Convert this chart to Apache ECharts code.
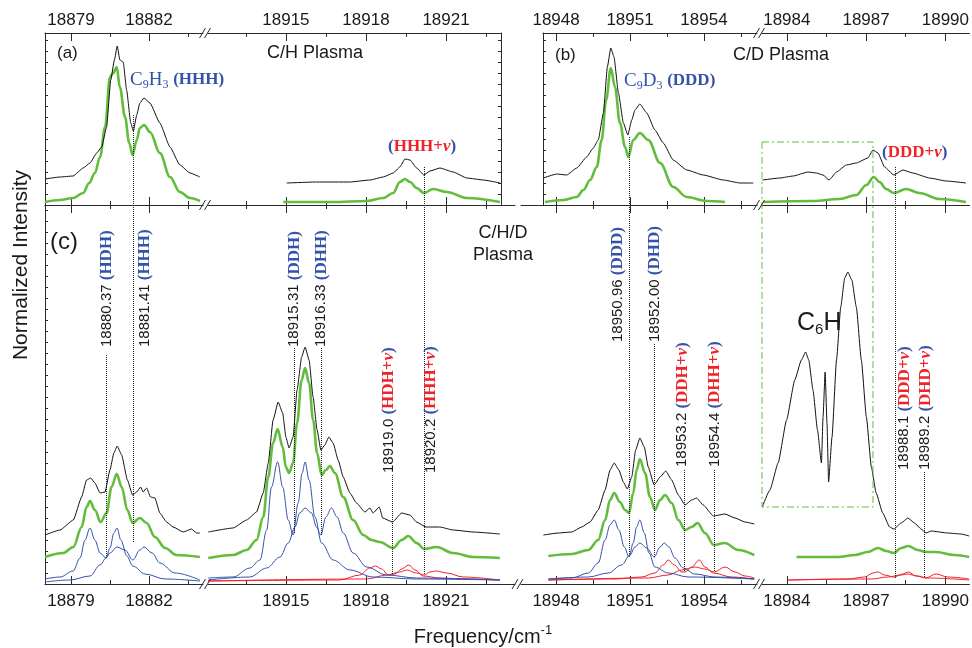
<!DOCTYPE html>
<html>
<head>
<meta charset="utf-8">
<title>C9H3 isotopologues - broken axis spectra</title>
<script src="https://cdn.jsdelivr.net/npm/echarts@6/dist/echarts.min.js"></script>
<style>
  html, body { margin: 0; padding: 0; background: #fff; }
  #main { width: 972px; height: 648px; }
</style>
</head>
<body>
<div id="main"></div>
<script>
// ---- data: [frequency / cm-1, normalized intensity (arb. units)] ----
// (a) C/H plasma
const topS1Black = [[18878.00,26],[18878.58,28],[18879.08,29],[18879.47,37],[18879.73,42],[18879.99,52],[18880.18,58],[18880.37,78],[18880.53,125],[18880.67,145],[18880.78,159],[18880.88,145],[18881.01,143],[18881.14,115],[18881.30,82],[18881.40,74],[18881.53,90],[18881.65,102],[18881.81,107],[18882.04,102],[18882.42,82],[18882.81,58],[18883.19,40],[18883.58,32],[18883.96,28]];
const topS1Green = [[18878.00,3],[18878.58,5],[18879.08,7],[18879.47,12],[18879.70,22],[18879.92,32],[18880.12,48],[18880.31,78],[18880.50,128],[18880.63,132],[18880.76,138],[18880.88,118],[18881.08,88],[18881.24,62],[18881.37,50],[18881.53,65],[18881.65,77],[18881.81,80],[18882.04,73],[18882.42,52],[18882.81,28],[18883.19,13],[18883.58,7],[18883.96,4]];
const topS2Black = [[18915.03,22],[18916.15,23],[18917.40,23],[18918.15,25],[18918.65,28],[18919.02,32],[18919.27,38],[18919.46,46],[18919.65,45],[18919.90,37],[18920.17,30],[18920.40,34],[18920.77,37],[18921.27,33],[18921.78,27],[18922.40,25],[18923.02,22]];
const topS2Green = [[18914.90,3],[18916.76,3],[18918.03,4],[18918.65,7],[18919.02,12],[18919.27,23],[18919.46,26],[18919.65,23],[18919.90,17],[18920.17,12],[18920.52,16],[18921.03,13],[18921.78,7],[18923.02,3]];
// (b) C/D plasma
const topS3Black = [[18947.49,27],[18948.03,31],[18948.43,30],[18948.84,37],[18949.24,48],[18949.51,57],[18949.71,65],[18949.92,92],[18950.08,138],[18950.22,157],[18950.35,148],[18950.53,112],[18950.73,82],[18950.91,70],[18951.07,85],[18951.20,95],[18951.40,101],[18951.68,92],[18952.01,75],[18952.35,62],[18952.75,45],[18953.30,35],[18953.97,30],[18954.78,25],[18955.46,22],[18956.00,22]];
const topS3Green = [[18947.55,3],[18948.30,5],[18948.84,8],[18949.11,15],[18949.38,25],[18949.65,38],[18949.85,65],[18950.03,105],[18950.22,137],[18950.39,118],[18950.59,82],[18950.80,58],[18950.93,48],[18951.13,65],[18951.40,72],[18951.74,65],[18952.22,42],[18952.75,18],[18953.30,8],[18954.11,4],[18954.85,3]];
const topS4Black = [[18983.08,25],[18983.74,27],[18984.24,29],[18984.80,33],[18985.12,32],[18985.37,30],[18985.60,25],[18985.88,33],[18986.25,40],[18986.63,42],[18987.07,47],[18987.26,55],[18987.45,52],[18987.70,38],[18988.05,30],[18988.39,35],[18988.77,32],[18989.40,27],[18990.03,24],[18990.78,22]];
const topS4Green = [[18983.11,3],[18984.99,4],[18986.00,6],[18986.63,10],[18987.01,20],[18987.29,28],[18987.51,23],[18987.76,16],[18988.05,12],[18988.52,16],[18989.02,12],[18989.77,6],[18990.78,3]];
// (c) C/H/D plasma
const botS1Black = [[18878.00,49],[18878.58,54],[18879.09,64],[18879.41,87],[18879.60,104],[18879.76,106],[18879.92,101],[18880.12,91],[18880.31,92],[18880.50,114],[18880.65,131],[18880.78,138],[18880.95,129],[18881.17,104],[18881.37,89],[18881.53,92],[18881.68,97],[18881.78,92],[18881.91,96],[18882.06,87],[18882.23,86],[18882.42,71],[18882.68,62],[18882.93,57],[18883.32,52],[18883.64,55],[18883.83,51],[18883.96,51]];
const botS1Green = [[18878.00,27],[18878.70,31],[18879.09,37],[18879.41,57],[18879.60,77],[18879.73,83],[18879.92,74],[18880.14,62],[18880.37,71],[18880.56,97],[18880.76,110],[18880.95,97],[18881.17,74],[18881.37,61],[18881.65,66],[18881.91,61],[18882.23,47],[18882.62,36],[18883.06,29],[18883.96,27]];
const botS1BlueHDH = [[18878.00,5],[18878.58,7],[18879.08,13],[18879.35,26],[18879.54,44],[18879.73,56],[18879.92,44],[18880.12,31],[18880.35,26],[18880.50,36],[18880.65,51],[18880.77,56],[18880.92,44],[18881.15,28],[18881.38,18],[18881.85,10],[18882.62,5],[18883.96,3]];
const botS1BlueHHH = [[18878.00,2],[18878.96,4],[18879.73,8],[18880.12,19],[18880.35,26],[18880.50,31],[18880.77,37],[18881.08,34],[18881.38,24],[18881.65,34],[18881.81,37],[18882.12,31],[18882.42,21],[18883.00,11],[18883.96,4]];
const botS2Black = [[18912.09,52],[18913.02,56],[18913.53,64],[18913.90,72],[18914.15,91],[18914.34,121],[18914.52,164],[18914.71,182],[18914.88,171],[18915.00,147],[18915.12,136],[18915.27,147],[18915.42,194],[18915.59,227],[18915.72,237],[18915.87,224],[18916.02,187],[18916.17,154],[18916.31,134],[18916.46,139],[18916.61,147],[18916.77,141],[18916.96,124],[18917.15,107],[18917.40,91],[18917.65,81],[18917.96,72],[18918.15,76],[18918.27,71],[18918.50,77],[18918.63,66],[18919.00,62],[18919.34,71],[18919.65,69],[18919.90,62],[18920.25,57],[18920.77,57],[18921.27,54],[18922.02,52],[18923.02,50]];
const botS2Green = [[18912.09,26],[18913.02,29],[18913.53,34],[18913.90,44],[18914.15,67],[18914.34,107],[18914.52,141],[18914.69,155],[18914.88,137],[18915.00,117],[18915.12,111],[18915.27,121],[18915.42,161],[18915.59,204],[18915.72,216],[18915.87,201],[18916.02,164],[18916.17,131],[18916.34,109],[18916.50,114],[18916.65,118],[18916.84,111],[18917.15,87],[18917.52,64],[18917.90,49],[18918.21,44],[18918.52,42],[18919.02,36],[18919.34,44],[18919.59,48],[18919.90,41],[18920.19,35],[18920.65,37],[18921.27,31],[18922.02,27],[18923.02,26]];
const botS2BlueDDH = [[18912.09,6],[18913.02,7],[18913.65,16],[18914.03,24],[18914.28,54],[18914.46,97],[18914.69,122],[18914.88,97],[18915.09,64],[18915.27,49],[18915.46,81],[18915.61,111],[18915.72,122],[18915.87,104],[18916.09,67],[18916.34,41],[18916.77,24],[18917.40,14],[18918.27,7],[18919.90,5],[18923.02,4]];
const botS2BlueDHH = [[18912.09,4],[18913.65,7],[18914.28,16],[18914.78,27],[18915.09,41],[18915.34,57],[18915.52,71],[18915.72,76],[18915.96,71],[18916.15,57],[18916.31,49],[18916.50,67],[18916.71,76],[18916.92,67],[18917.15,51],[18917.52,31],[18918.03,17],[18918.78,9],[18919.90,6],[18923.02,4]];
const botS2RedHDH = [[18912.09,3],[18917.02,4],[18917.77,9],[18918.15,16],[18918.36,18],[18918.59,15],[18918.84,9],[18919.09,10],[18919.34,15],[18919.61,19],[18919.84,14],[18920.15,8],[18920.77,6],[18921.78,5],[18923.02,4]];
const botS2RedHHH = [[18912.09,3],[18918.03,5],[18918.78,9],[18919.27,12],[18919.53,14],[18919.90,11],[18920.19,9],[18920.40,12],[18920.65,13],[18921.03,11],[18921.65,7],[18923.02,4]];
const botS3Black = [[18947.49,49],[18948.09,51],[18948.64,52],[18949.04,57],[18949.38,62],[18949.71,74],[18949.99,94],[18950.19,114],[18950.36,121],[18950.55,114],[18950.73,102],[18950.89,95],[18951.07,107],[18951.23,134],[18951.40,146],[18951.58,137],[18951.74,117],[18951.98,99],[18952.22,107],[18952.45,113],[18952.69,104],[18952.96,89],[18953.23,79],[18953.50,84],[18953.70,86],[18953.97,79],[18954.38,68],[18954.85,70],[18955.26,66],[18955.66,62],[18956.04,60]];
const botS3Green = [[18947.69,28],[18948.64,30],[18949.31,34],[18949.71,44],[18949.99,64],[18950.19,84],[18950.36,91],[18950.59,82],[18950.80,74],[18950.96,71],[18951.13,91],[18951.27,114],[18951.40,125],[18951.61,111],[18951.81,87],[18952.01,74],[18952.22,84],[18952.42,89],[18952.69,81],[18952.96,64],[18953.23,54],[18953.50,57],[18953.74,61],[18954.04,51],[18954.40,39],[18954.85,41],[18955.39,34],[18956.04,29]];
const botS3BlueDDD = [[18947.69,5],[18948.64,6],[18949.31,11],[18949.71,21],[18949.99,44],[18950.19,59],[18950.36,64],[18950.55,54],[18950.77,37],[18950.96,27],[18951.13,41],[18951.27,57],[18951.40,64],[18951.58,51],[18951.77,31],[18952.01,17],[18952.55,11],[18953.36,7],[18956.04,5]];
const botS3BlueDHD = [[18947.69,5],[18949.31,7],[18950.12,11],[18950.66,19],[18951.00,29],[18951.20,37],[18951.40,41],[18951.68,36],[18951.98,27],[18952.22,37],[18952.39,41],[18952.58,37],[18952.82,26],[18953.16,16],[18953.63,10],[18954.45,7],[18956.04,5]];
const botS3RedDDH = [[18947.69,4],[18950.39,5],[18951.47,7],[18952.01,11],[18952.35,19],[18952.55,24],[18952.80,19],[18953.10,12],[18953.23,12],[18953.50,17],[18953.81,24],[18954.04,17],[18954.38,11],[18955.12,7],[18956.04,5]];
const botS3RedDHH = [[18947.69,4],[18951.74,6],[18952.55,9],[18953.10,14],[18953.63,17],[18954.04,15],[18954.42,12],[18954.85,17],[18955.26,12],[18955.66,8],[18956.04,6]];
const botS4Black = [[18983.07,77],[18983.36,94],[18983.67,121],[18983.99,164],[18984.30,204],[18984.55,224],[18984.71,232],[18984.83,224],[18984.99,194],[18985.16,154],[18985.31,121],[18985.37,167],[18985.45,212],[18985.52,161],[18985.58,102],[18985.71,147],[18985.88,224],[18986.04,277],[18986.19,306],[18986.31,312],[18986.46,304],[18986.63,277],[18986.82,224],[18987.01,167],[18987.20,117],[18987.38,91],[18987.63,71],[18987.89,57],[18988.05,55],[18988.33,61],[18988.58,66],[18988.83,61],[18989.08,55],[18989.27,51],[18989.46,53],[18990.09,51],[18990.59,50],[18990.90,48]];
const botS4Green = [[18984.37,27],[18985.94,27],[18986.57,29],[18987.07,32],[18987.45,36],[18987.76,33],[18988.05,31],[18988.33,36],[18988.60,38],[18988.95,34],[18989.27,32],[18989.65,32],[18990.34,29],[18990.90,27]];
const botS4RedDDD = [[18984.05,4],[18986.31,5],[18986.94,7],[18987.26,11],[18987.45,12],[18987.70,9],[18988.05,7],[18988.39,10],[18988.60,12],[18988.89,8],[18989.33,6],[18990.90,4]];
const botS4RedDHD = [[18984.05,4],[18987.20,5],[18987.82,7],[18988.33,9],[18988.55,10],[18988.95,8],[18989.25,6],[18989.65,10],[18990.09,7],[18990.90,5]];

// tick labels (major) and minor tick positions for each axis segment
const ticksS1 = [18879, 18882];
const minorS1 = [18880.5, 18883.5];
const ticksS2 = [18915, 18918, 18921];
const minorS2 = [18913.5, 18916.5, 18919.5, 18922.5];
const ticksS3 = [18948, 18951, 18954];
const minorS3 = [18949.5, 18952.5, 18955.5];
const ticksS4 = [18984, 18987, 18990];
const minorS4 = [18985.5, 18988.5];

// band origins: [panel, frequency, label, isotopologue, hot band (+v)]
const bandOrigins = [
  ['c1', 18880.37, '18880.37', 'HDH', false],
  ['c1', 18881.41, '18881.41', 'HHH', false],
  ['c2', 18915.31, '18915.31', 'DDH', false],
  ['c2', 18916.33, '18916.33', 'DHH', false],
  ['c2', 18919.0, '18919.0', 'HDH', true],
  ['c2', 18920.2, '18920.2', 'HHH', true],
  ['c3', 18950.96, '18950.96', 'DDD', false],
  ['c3', 18952.00, '18952.00', 'DHD', false],
  ['c3', 18953.2, '18953.2', 'DDH', true],
  ['c3', 18954.4, '18954.4', 'DHH', true],
  ['c4', 18988.1, '18988.1', 'DDD', true],
  ['c4', 18989.2, '18989.2', 'DHD', true]
];

// ---- styling / layout ----
const SANS = 'Liberation Sans, Arial, sans-serif';
const SERIF = 'Liberation Serif, Times New Roman, serif';
const INK = '#1a1a1a';
const BLACK = '#111111', GREEN = '#63bd3d', BLUE = '#3452ab', RED = '#f0222a';
const TOPMAX = 172, BOTMAX = 379;

const panels = [
  {key: 'a1', left: 45,  top: 33,  width: 158, height: 172, min: 18878.00, max: 18884.08, ticks: ticksS1, minor: minorS1, upper: true,  yPos: 'left'},
  {key: 'a2', left: 208, top: 33,  width: 293, height: 172, min: 18912.08, max: 18923.06, ticks: ticksS2, minor: minorS2, upper: true,  yPos: 'right'},
  {key: 'b3', left: 543, top: 33,  width: 214, height: 172, min: 18947.47, max: 18956.15, ticks: ticksS3, minor: minorS3, upper: true,  yPos: 'left'},
  {key: 'b4', left: 762, top: 33,  width: 208, height: 172, min: 18983.06, max: 18990.91, ticks: ticksS4, minor: minorS4, upper: true,  yPos: null},
  {key: 'c1', left: 45,  top: 205, width: 158, height: 379, min: 18878.00, max: 18884.08, ticks: ticksS1, minor: minorS1, upper: false, yPos: 'left'},
  {key: 'c2', left: 208, top: 205, width: 307, height: 379, min: 18912.08, max: 18923.59, ticks: ticksS2, minor: minorS2, upper: false, yPos: null},
  {key: 'c3', left: 521, top: 205, width: 236, height: 379, min: 18946.58, max: 18956.15, ticks: ticksS3, minor: minorS3, upper: false, yPos: null},
  {key: 'c4', left: 762, top: 205, width: 208, height: 379, min: 18983.06, max: 18990.91, ticks: ticksS4, minor: minorS4, upper: false, yPos: null}
];
const panelIdx = {};
panels.forEach((p, i) => { panelIdx[p.key] = i; });

// dotted guide lines: [frequency, y from, y to] in each panel's data units
const guides = {
  a1: [[18881.41, 90, 0]],
  a2: [[18920.2, 38, 0]],
  b3: [[18950.96, 68, 0]],
  b4: [[18988.1, 38, 0]],
  c1: [[18880.37, 229, 26], [18881.41, BOTMAX, 41]],
  c2: [[18915.31, 236, 51], [18916.33, 236, 49], [18919.0, 109, 9], [18920.2, BOTMAX, 9]],
  c3: [[18950.96, BOTMAX, 27], [18952.00, 240, 27], [18953.2, 114, 12], [18954.4, 114, 12]],
  c4: [[18988.1, BOTMAX, 6], [18989.2, 112, 6]]
};
// where the rotated labels sit: [y of text start, x shift px]
const labelPlace = {
  18880.37: [237, 0], 18881.41: [237, 11], 18915.31: [237, 0], 18916.33: [237, 0],
  18919.0: [111, -4], 18920.2: [111, 6], 18950.96: [242, -11], 18952.00: [242, 0],
  18953.2: [117, -2], 18954.4: [117, 1], 18988.1: [114, 9], 18989.2: [114, 1]
};

const axisLine = {color: '#2a2a2a', width: 1};
const grid = [], xAxis = [], yAxis = [];
panels.forEach((p, i) => {
  grid.push({left: p.left, top: p.top, width: p.width, height: p.height});
  p.xIndex = xAxis.length;
  ['bottom', 'top'].forEach(pos => {
    const labelled = (pos === 'top') === p.upper;
    xAxis.push({
      type: 'value', gridIndex: i, position: pos, min: p.min, max: p.max,
      splitLine: {show: false},
      axisLine: {show: true, onZero: false, lineStyle: axisLine},
      axisTick: {show: true, inside: true, length: 8, customValues: p.ticks, lineStyle: axisLine},
      axisLabel: {show: labelled, customValues: p.ticks, margin: pos === 'top' ? 4 : 9,
        formatter: v => String(Math.round(v)),
        fontSize: 17, fontFamily: SANS, color: INK}
    });
    xAxis.push({
      type: 'value', gridIndex: i, position: pos, min: p.min, max: p.max,
      splitLine: {show: false},
      axisLine: {show: false, onZero: false},
      axisTick: {show: true, inside: true, length: 4, customValues: p.minor, lineStyle: axisLine},
      axisLabel: {show: false}
    });
  });
  yAxis.push({
    type: 'value', gridIndex: i, min: 0, max: p.upper ? TOPMAX : BOTMAX, interval: 11,
    position: p.yPos || 'left', show: !!p.yPos,
    axisLine: {show: true, onZero: false, lineStyle: axisLine},
    axisTick: {show: true, inside: true, length: 3, lineStyle: axisLine},
    axisLabel: {show: false}, splitLine: {show: false}
  });
});

const series = [];
const blackSeries = {};
function addLine(key, data, kind) {
  const i = panelIdx[key];
  const st = {
    black: {color: BLACK, width: 1, smooth: 0.15, z: 5},
    green: {color: GREEN, width: 2.6, smooth: 0.35, z: 4},
    blue: {color: BLUE, width: 1, smooth: 0.35, z: 3},
    red: {color: RED, width: 1, smooth: 0.35, z: 2}
  }[kind];
  const s = {
    type: 'line', xAxisIndex: panels[i].xIndex, yAxisIndex: i, data: data,
    symbol: 'none', smooth: st.smooth, smoothMonotone: 'x', z: st.z, silent: true,
    lineStyle: {color: st.color, width: st.width}, itemStyle: {color: st.color},
    emphasis: {disabled: true}
  };
  if (kind === 'black') {
    s.markLine = {
      silent: true, symbol: ['none', 'none'], label: {show: false},
      lineStyle: {type: 'dotted', color: '#222', width: 1},
      emphasis: {disabled: true},
      data: guides[key].map(g => [{coord: [g[0], g[1]]}, {coord: [g[0], g[2]]}])
    };
    blackSeries[key] = series.length;
  }
  series.push(s);
}

addLine('a1', topS1Green, 'green'); addLine('a1', topS1Black, 'black');
addLine('a2', topS2Green, 'green'); addLine('a2', topS2Black, 'black');
addLine('b3', topS3Green, 'green'); addLine('b3', topS3Black, 'black');
addLine('b4', topS4Green, 'green'); addLine('b4', topS4Black, 'black');
addLine('c1', botS1BlueHDH, 'blue'); addLine('c1', botS1BlueHHH, 'blue');
addLine('c1', botS1Green, 'green'); addLine('c1', botS1Black, 'black');
addLine('c2', botS2RedHDH, 'red'); addLine('c2', botS2RedHHH, 'red');
addLine('c2', botS2BlueDDH, 'blue'); addLine('c2', botS2BlueDHH, 'blue');
addLine('c2', botS2Green, 'green'); addLine('c2', botS2Black, 'black');
addLine('c3', botS3RedDDH, 'red'); addLine('c3', botS3RedDHH, 'red');
addLine('c3', botS3BlueDDD, 'blue'); addLine('c3', botS3BlueDHD, 'blue');
addLine('c3', botS3Green, 'green'); addLine('c3', botS3Black, 'black');
addLine('c4', botS4RedDDD, 'red'); addLine('c4', botS4RedDHD, 'red');
addLine('c4', botS4Green, 'green'); addLine('c4', botS4Black, 'black');

const chart = echarts.init(document.getElementById('main'));
chart.setOption({animation: false, backgroundColor: '#fff', grid, xAxis, yAxis, series});

// ---- annotations ----
const toPx = (key, x, y) => chart.convertToPixel({seriesIndex: blackSeries[key]}, [x, y]);
function tok(family, size, fill, extra) {
  return Object.assign({fontFamily: family, fontSize: size, fill: fill, color: fill}, extra || {});
}
const richBand = {
  n: tok(SANS, 15, INK),
  p: tok(SERIF, 17, BLUE, {fontWeight: 'bold'}),
  bb: tok(SERIF, 17, BLUE, {fontWeight: 'bold'}),
  rb: tok(SERIF, 17, RED, {fontWeight: 'bold'}),
  rv: tok(SERIF, 17, RED, {fontWeight: 'bold', fontStyle: 'italic'})
};
const formula = {
  c: tok(SERIF, 19, BLUE, {lineHeight: 22}),
  s: tok(SERIF, 12, BLUE, {verticalAlign: 'bottom', lineHeight: 12}),
  p: richBand.p, bb: richBand.bb, rb: richBand.rb, rv: richBand.rv
};
function text(x, y, str, opt) {
  opt = opt || {};
  return {
    type: 'text', x: x, y: y, rotation: opt.rotation || 0, silent: true, z: 100,
    style: {
      text: str, fill: opt.color || INK,
      font: (opt.size || 17) + 'px ' + (opt.family || SANS),
      align: opt.align || 'left', textAlign: opt.align || 'left',
      verticalAlign: 'middle', textVerticalAlign: 'middle',
      lineHeight: opt.lineHeight, rich: opt.rich
    }
  };
}

const graphic = [];
bandOrigins.forEach(b => {
  const place = labelPlace[b[1]];
  const pt = toPx(b[0], b[1], place[0]);
  const inner = b[4] ? '{rb|' + b[3] + '+}{rv|ν}' : '{bb|' + b[3] + '}';
  graphic.push(text(pt[0] + place[1], pt[1], '{n|' + b[2] + ' }{p|(}' + inner + '{p|)}',
    {rotation: Math.PI / 2, rich: richBand}));
});

graphic.push(text(57, 53, '(a)'));
graphic.push(text(267, 53, 'C/H Plasma', {size: 18}));
graphic.push(text(555, 55, '(b)'));
graphic.push(text(733, 55, 'C/D Plasma', {size: 18}));
graphic.push(text(50, 242, '(c)', {size: 24}));
graphic.push(text(503, 244, 'C/H/D\nPlasma', {size: 18, align: 'center', lineHeight: 22}));
graphic.push(text(130, 80, '{c|C}{s|9}{c|H}{s|3}{c| }{bb|(HHH)}', {rich: formula}));
graphic.push(text(388, 147, '{p|(}{rb|HHH+}{rv|ν}{p|)}', {rich: formula}));
graphic.push(text(624, 81, '{c|C}{s|9}{c|D}{s|3}{c| }{bb|(DDD)}', {rich: formula}));
graphic.push(text(882, 153, '{p|(}{rb|DDD+}{rv|ν}{p|)}', {rich: formula}));
graphic.push(text(797, 323, '{l|C}{s|6}{l|H}', {rich: {
  l: tok(SANS, 25, INK, {lineHeight: 28}),
  s: tok(SANS, 15, INK, {verticalAlign: 'bottom', lineHeight: 15})
}}));
graphic.push(text(21, 265, 'Normalized Intensity', {size: 21, align: 'center', rotation: Math.PI / 2}));
graphic.push(text(483, 637, '{t|Frequency/cm}{u|-1}', {align: 'center', rich: {
  t: tok(SANS, 20, INK, {lineHeight: 26}),
  u: tok(SANS, 13, INK, {verticalAlign: 'top', lineHeight: 13})
}}));

// green dash-dot box around the C6H band
const boxA = toPx('b4', 18983.06, 63);
const boxB = toPx('c4', 18987.26, 77);
graphic.push({
  type: 'rect', silent: true, z: 50,
  shape: {x: boxA[0], y: boxA[1], width: boxB[0] - boxA[0], height: boxB[1] - boxA[1]},
  style: {fill: 'none', stroke: GREEN, lineWidth: 1, lineDash: [7, 3, 2, 3]}
});

// "//" break marks between axis segments
const breaks = [];
[[0, 1], [4, 5], [5, 6], [2, 3], [6, 7]].forEach(pair => {
  const a = panels[pair[0]], b = panels[pair[1]];
  const cx = (a.left + a.width + b.left) / 2;
  breaks.push([cx, a.top + a.height]);
  if (a.upper) breaks.push([cx, a.top]);
});
breaks.forEach(bk => {
  [-6, -1].forEach(off => {
    graphic.push({
      type: 'line', silent: true, z: 60,
      shape: {x1: bk[0] + off, y1: bk[1] + 5, x2: bk[0] + off + 6, y2: bk[1] - 5},
      style: {stroke: '#2a2a2a', lineWidth: 1}
    });
  });
});

chart.setOption({graphic: graphic});
</script>
</body>
</html>
